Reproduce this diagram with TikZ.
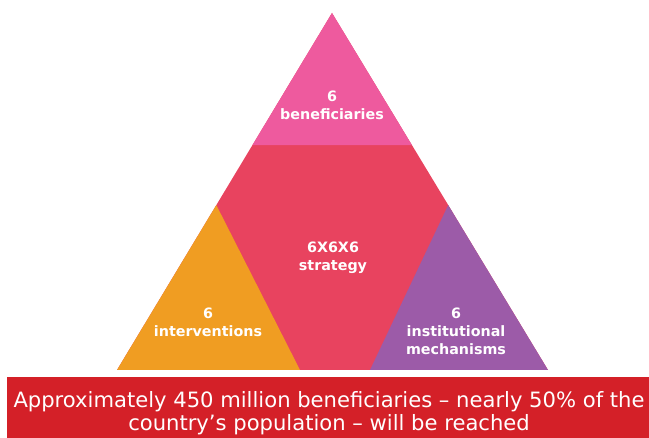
\documentclass[tikz,border=0pt]{standalone}
\usepackage{fontspec}
\setmainfont{DejaVu Sans}
\usetikzlibrary{calc}
\definecolor{pinktop}{HTML}{EE5A9E}
\definecolor{redmid}{HTML}{E8435F}
\definecolor{orangeleft}{HTML}{F09D22}
\definecolor{purpleright}{HTML}{9C5BA8}
\definecolor{redbar}{HTML}{D42028}
\begin{document}
\begin{tikzpicture}[
  x=1pt, y=-1pt,
  label text/.style={text=white, align=center, font=\bfseries\fontsize{14.3}{18}\selectfont},
  bar text/.style={text=white, align=center, font=\fontsize{21.1}{23}\selectfont}
  ]
  \useasboundingbox (0,0) rectangle (649,438);

  % Define corners
  \coordinate (apex) at (332,13);
  \coordinate (baseL) at (117,370);
  \coordinate (baseR) at (548,370);
  \coordinate (topL) at ($(apex)!0.37!(baseL)$);
  \coordinate (topR) at ($(apex)!0.37!(baseR)$);
  \coordinate (leftA) at ($(apex)!0.538!(baseL)$);
  \coordinate (leftB) at (300,370);
  \coordinate (rightA) at ($(apex)!0.538!(baseR)$);
  \coordinate (rightB) at (370,370);

  % Fill the parts
  \fill[redmid] (apex) -- (baseL) -- (baseR) -- cycle;
  \fill[pinktop] (apex) -- (topL) -- (topR) -- cycle;
  \fill[orangeleft] (leftA) -- (baseL) -- (leftB) -- cycle;
  \fill[purpleright] (rightA) -- (rightB) -- (baseR) -- cycle;
  \fill[redbar] (7,377) rectangle (649,438);

  % Define nodes
  \node[label text] (benef) at (332,105) {6\\beneficiaries};
  \node[label text] (strat) at (333,258) {6X6X6\\strategy};
  \node[label text] (interv) at (208,322) {6\\interventions};
  \node[label text] (instit) at (456,331) {6\\institutional\\mechanisms};
  \node[bar text] (reach) at (329,413) {Approximately 450 million beneficiaries -- nearly 50\% of the\\country’s population -- will be reached};
\end{tikzpicture}
\end{document}
